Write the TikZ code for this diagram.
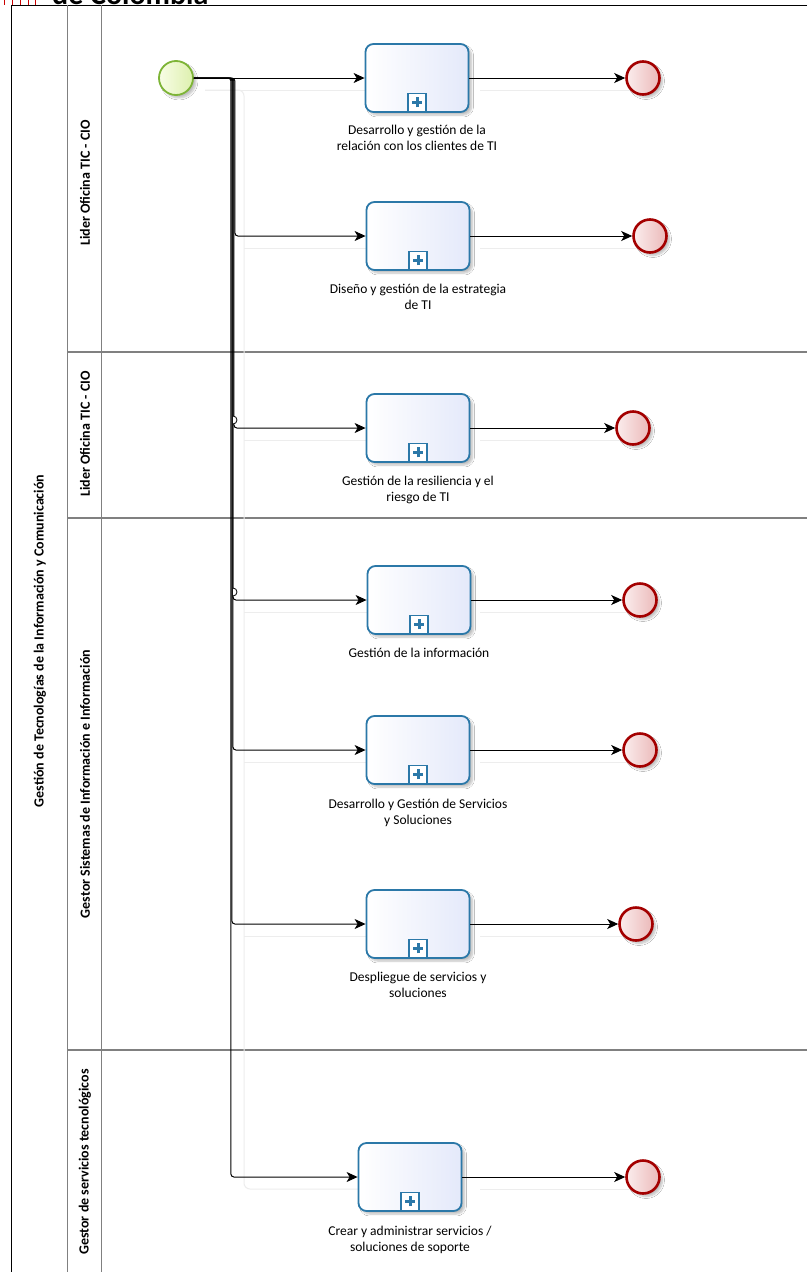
\documentclass[tikz,border=0pt]{standalone}
\usepackage{fontspec}
\setmainfont{Carlito}
\usetikzlibrary{arrows.meta,shadows.blur}
\definecolor{taskblue}{HTML}{2B78A8}
\definecolor{taskfill}{HTML}{E4E9FA}
\definecolor{startgreen}{HTML}{7DB436}
\definecolor{startfillA}{HTML}{F8FDE6}
\definecolor{startfillB}{HTML}{DDF0AE}
\definecolor{endred}{HTML}{A40000}
\definecolor{endfillA}{HTML}{FBEDED}
\definecolor{endfillB}{HTML}{EBB9B9}
\definecolor{lanegray}{HTML}{808080}
\begin{document}
\begin{tikzpicture}[x=1pt,y=-1pt,
  task/.style={draw=taskblue, line width=1.8pt, rounded corners=8pt,
    minimum width=103pt, minimum height=68pt, inner sep=0pt,
    left color=white, right color=taskfill,
    blur shadow={shadow xshift=3pt, shadow yshift=-3pt, shadow opacity=25, shadow blur steps=6}},
  marker/.style={draw=taskblue, line width=1.3pt, minimum size=18pt, inner sep=0pt,
    fill=white, anchor=south,
    path picture={\draw[taskblue, line width=3pt]
      ([xshift=-5pt]path picture bounding box.center) -- ([xshift=5pt]path picture bounding box.center)
      ([yshift=-5pt]path picture bounding box.center) -- ([yshift=5pt]path picture bounding box.center);}},
  startev/.style={circle, draw=startgreen, line width=1.8pt, minimum size=34pt, inner sep=0pt,
    left color=startfillA, right color=startfillB,
    blur shadow={shadow xshift=3pt, shadow yshift=-3pt, shadow opacity=25, shadow blur steps=6}},
  endev/.style={circle, draw=endred, line width=2.6pt, minimum size=33pt, inner sep=0pt,
    left color=endfillA, right color=endfillB,
    blur shadow={shadow xshift=3pt, shadow yshift=-3pt, shadow opacity=25, shadow blur steps=6}},
  lbl/.style={anchor=north, align=center, font=\fontsize{13.5}{16}\selectfont, inner sep=0pt},
  lanelbl/.style={rotate=90, font=\fontsize{14}{16}\selectfont\bfseries, inner sep=0pt},
  flow/.style={line width=1pt, -{Stealth[length=11pt,width=10pt,inset=3pt]}},
  sflow/.style={line width=1pt, black!7},
  frame/.style={line width=1pt, lanegray},
  lanesep/.style={line width=1.5pt, lanegray}
]
\useasboundingbox (0,0) rectangle (807,1272);
\begin{scope}
\clip (0,0) rectangle (807,1272);
% cut-off title and logo marks
\node[anchor=base west, inner sep=0pt, font=\fontsize{30}{32}\selectfont\bfseries] (title) at (52,4) {de Colombia};
\foreach \xx in {4,12,20,28,35} \draw[red!80!black, line width=0.8pt] (\xx,0) -- (\xx,5);
\draw[red!80!black, line width=1pt] (0,6) -- (10,6);
\fill[white] (0,5) rectangle (807,1272);
% pool and lanes
\draw[line width=1pt, black] (807,5) -- (11,5) -- (11,1272);
\draw[frame] (67,5) -- (67,1272);
\draw[frame] (101,5) -- (101,1272);
\draw[lanesep] (67,352) -- (807,352);
\draw[lanesep] (67,518) -- (807,518);
\draw[lanesep] (67,1050) -- (807,1050);
\node[lanelbl] (pool) at (40,641) {Gestión  de  Tecnologías de la Información y Comunicación};
\node[lanelbl] (l1) at (85,183) {Lider Oficina TIC - CIO};
\node[lanelbl] (l2) at (85,434) {Lider Oficina TIC - CIO};
\node[lanelbl] (l3) at (85,784) {Gestor  Sistemas de Información e Información};
\node[lanelbl] (l4) at (85,1162) {Gestor de  servicios tecnológicos};
% shadow lines of the connectors
\draw[sflow, rounded corners=6pt] (205,90) -- (370,90);
\draw[sflow, rounded corners=6pt] (205,90) -- (244,90) -- (244,1189) -- (370,1189);
\foreach \yy in {248,440,612,762,936} \draw[sflow] (244,\yy) -- (370,\yy);
\foreach \yy/\xe in {90/630,248/637,440/620,612/627,762/627,936/623,1189/630} \draw[sflow] (480,\yy) -- (\xe,\yy);
% events and tasks
\node[startev] (s) at (176,78) {};
\node[task] (t1) at (417,78) {};
\node[task] (t2) at (418,236) {};
\node[task] (t3) at (418,428) {};
\node[task] (t4) at (419,600) {};
\node[task] (t5) at (418,750) {};
\node[task] (t6) at (418,924) {};
\node[task] (t7) at (410,1177) {};
\foreach \t in {t1,t2,t3,t4,t5,t6,t7} \node[marker] (m\t) at ([yshift=0.9pt]\t.south) {};
\node[endev] (e1) at (643,78) {};
\node[endev] (e2) at (650,236) {};
\node[endev] (e3) at (633,428) {};
\node[endev] (e4) at (640,600) {};
\node[endev] (e5) at (640,750) {};
\node[endev] (e6) at (636,924) {};
\node[endev] (e7) at (643,1177) {};
% labels
\node[lbl] (d1) at ([yshift=-12pt]t1.south) {Desarrollo y gestión de la\\relación con los clientes de TI};
\node[lbl] (d2) at ([yshift=-13pt]t2.south) {Diseño y gestión de la estrategia\\de TI};
\node[lbl] (d3) at ([yshift=-13pt]t3.south) {Gestión de la resiliencia y el\\riesgo de TI};
\node[lbl] (d4) at ([yshift=-13pt]t4.south) {Gestión de la información};
\node[lbl] (d5) at ([yshift=-14pt]t5.south) {Desarrollo y Gestión de Servicios\\y Soluciones};
\node[lbl] (d6) at ([yshift=-13pt]t6.south) {Despliegue de servicios y\\soluciones};
\node[lbl] (d7) at ([yshift=-14pt]t7.south) {Crear y administrar servicios /\\soluciones de soporte};
% sequence flows
\draw[flow] (s) -- (t1);
\draw[flow, rounded corners=3pt] (s.east) -- ++(41,0) |- (t2.west);
\draw[flow, rounded corners=3pt] (s.east) -- ++(40,0) |- (t3.west);
\draw[flow, rounded corners=3pt] (s.east) -- ++(39,0) |- (t4.west);
\draw[flow, rounded corners=3pt] (s.east) -- ++(39,0) |- (t5.west);
\draw[flow, rounded corners=3pt] (s.east) -- ++(38,0) |- (t6.west);
\draw[flow, rounded corners=3pt] (s.east) -- ++(37,0) |- (t7.west);
\foreach \i in {1,...,7} \draw[flow] (t\i) -- (e\i);
% line jumps
\draw[line width=0.8pt, fill=white] (233,424) arc[start angle=90, end angle=-90, radius=4];
\draw[line width=0.8pt, fill=white] (233,596) arc[start angle=90, end angle=-90, radius=4];
\end{scope}
\end{tikzpicture}
\end{document}
